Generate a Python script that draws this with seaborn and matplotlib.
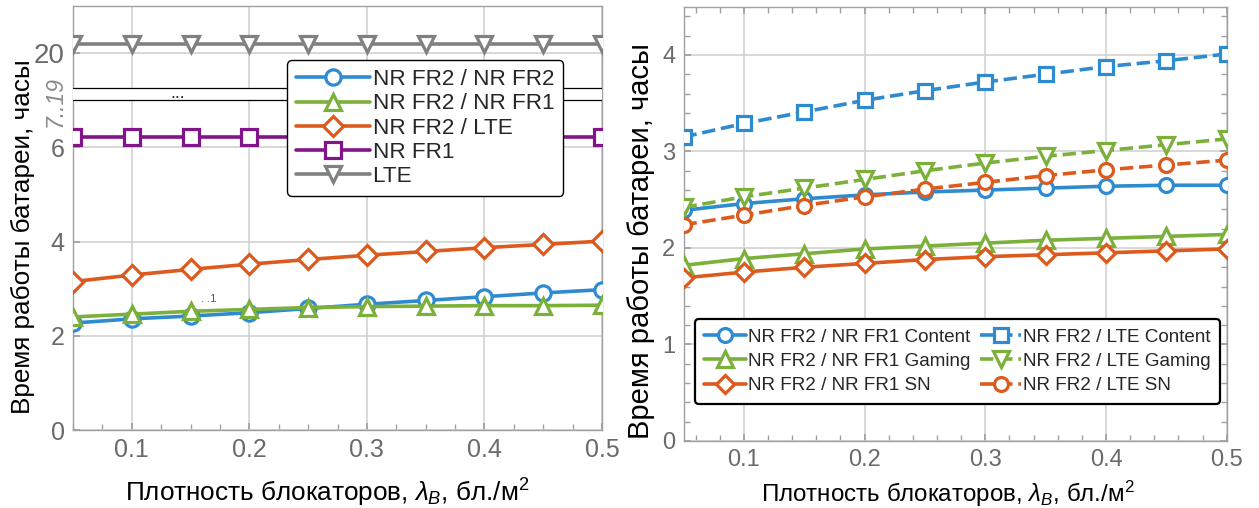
import matplotlib
matplotlib.use("Agg")
import matplotlib.pyplot as plt
import seaborn as sns
from matplotlib.ticker import FixedLocator, MultipleLocator

# blocker density, bl./m^2
density = [0.05, 0.10, 0.15, 0.20, 0.25, 0.30, 0.35, 0.40, 0.45, 0.50]

# left panel: battery life, hours
left_nr2_nr2 = [2.27, 2.36, 2.42, 2.49, 2.58, 2.67, 2.75, 2.83, 2.91, 2.98]
left_nr2_nr1 = [2.40, 2.46, 2.52, 2.56, 2.60, 2.62, 2.63, 2.64, 2.64, 2.65]
left_nr2_lte = [3.15, 3.29, 3.41, 3.52, 3.62, 3.71, 3.79, 3.87, 3.94, 4.01]
left_nr1 = [6.22, 6.22, 6.22, 6.22, 6.22, 6.22, 6.22, 6.22, 6.22, 6.22]
left_lte = [20.2, 20.2, 20.2, 20.2, 20.2, 20.2, 20.2, 20.2, 20.2, 20.2]
left_labels = ["NR FR2 / NR FR2", "NR FR2 / NR FR1", "NR FR2 / LTE", "NR FR1", "LTE"]
left_yticks = [0, 2, 4, 6, 20]

# right panel: per-application battery life, hours
content_nr1 = [2.39, 2.46, 2.51, 2.55, 2.58, 2.60, 2.62, 2.64, 2.65, 2.65]
gaming_nr1 = [1.82, 1.89, 1.94, 1.99, 2.02, 2.05, 2.08, 2.10, 2.12, 2.14]
sn_nr1 = [1.69, 1.75, 1.80, 1.84, 1.88, 1.91, 1.93, 1.95, 1.97, 1.99]
content_lte = [3.15, 3.29, 3.41, 3.53, 3.63, 3.72, 3.80, 3.88, 3.94, 4.01]
gaming_lte = [2.42, 2.53, 2.62, 2.71, 2.80, 2.88, 2.95, 3.01, 3.07, 3.13]
sn_lte = [2.24, 2.34, 2.44, 2.53, 2.61, 2.68, 2.75, 2.81, 2.86, 2.91]
right_labels = [
    "NR FR2 / NR FR1 Content", "NR FR2 / NR FR1 Gaming", "NR FR2 / NR FR1 SN",
    "NR FR2 / LTE Content", "NR FR2 / LTE Gaming", "NR FR2 / LTE SN",
]

# broken y axis on the left panel: 7..19 is cut out
BREAK_LO, BREAK_HI = 7, 19
SHIFT = BREAK_HI - BREAK_LO

BLUE, GREEN, ORANGE = "#2f8bd0", "#7bb03a", "#dd5a1e"
PURPLE, GRAY = "#82148a", "#808080"
TICK_GRAY, SPINE_GRAY, GRID_GRAY = "#6a6a6a", "#a0a0a0", "#d2d2d2"
XLABEL = r"Плотность блокаторов, $\lambda_B$, бл./м$^2$"
YLABEL = "Время работы батареи, часы"

sns.set_theme(style="whitegrid")
plt.rcParams["font.family"] = ["Liberation Sans", "DejaVu Sans"]
plt.rcParams["mathtext.fontset"] = "custom"
plt.rcParams["mathtext.rm"] = "Liberation Sans"
plt.rcParams["mathtext.it"] = "Liberation Sans:italic"

fig = plt.figure(figsize=(12.59, 5.08), dpi=100)
ax_l = fig.add_axes([0.0580, 0.1535, 0.4202, 0.8346])
ax_r = fig.add_axes([0.5429, 0.1319, 0.4315, 0.8549])


def draw(ax, y, color, marker, ls="-", ms=11, label=None, z=3):
    sns.lineplot(
        x=density, y=y, ax=ax, color=color, marker=marker, linestyle=ls,
        linewidth=2.6, markersize=ms, markerfacecolor="white",
        markeredgecolor=color, markeredgewidth=2.3, label=label, zorder=z,
    )


def style_axes(ax, label_size):
    ax.set_facecolor("white")
    for sp in ax.spines.values():
        sp.set_color(SPINE_GRAY)
        sp.set_linewidth(1.0)
        sp.set_visible(True)
    ax.grid(True, color=GRID_GRAY, linewidth=1.2)
    ax.set_xlim(0.05, 0.5)
    ax.set_xticks([0.1, 0.2, 0.3, 0.4, 0.5])
    ax.set_xticklabels(["0.1", "0.2", "0.3", "0.4", "0.5"])
    ax.tick_params(axis="both", which="both", direction="in", colors=SPINE_GRAY,
                   labelcolor=TICK_GRAY, labelsize=label_size, pad=6)
    ax.tick_params(axis="both", which="major", length=5)
    ax.tick_params(axis="both", which="minor", length=4)


# ---- left panel ----
draw(ax_l, left_nr2_nr2, BLUE, "o", label=left_labels[0], z=3)
draw(ax_l, left_nr2_nr1, GREEN, "^", ms=12, label=left_labels[1], z=4)
draw(ax_l, left_nr2_lte, ORANGE, "D", ms=10, label=left_labels[2], z=3)
draw(ax_l, left_nr1, PURPLE, "s", label=left_labels[3], z=3)
draw(ax_l, [v - SHIFT for v in left_lte], GRAY, "v", ms=12, label=left_labels[4], z=3)

style_axes(ax_l, 18)
ax_l.set_ylim(0, 9)
ax_l.yaxis.set_major_locator(FixedLocator([t if t < BREAK_LO else t - SHIFT for t in left_yticks]))
ax_l.set_yticklabels([str(t) for t in left_yticks])
ax_l.get_yticklabels()[-1].set_fontsize(20)
ax_l.xaxis.set_minor_locator(MultipleLocator(0.025))
ax_l.tick_params(axis="x", which="both", top=False, bottom=True)
ax_l.tick_params(axis="y", which="both", left=True, right=False)

# break band
ax_l.axhspan(BREAK_LO, BREAK_LO + 0.27, color="white", zorder=5)
ax_l.axhline(BREAK_LO, color="black", linewidth=0.9, zorder=6)
ax_l.axhline(BREAK_LO + 0.27, color="black", linewidth=0.9, zorder=6)
ax_l.text(0.139, BREAK_LO + 0.15, "...", ha="center", va="center", fontsize=13, zorder=7)
ax_l.text(-0.034, 0.775, f"{BREAK_LO}..{BREAK_HI}", transform=ax_l.transAxes, rotation=90,
          ha="center", va="center", fontsize=16.5, style="italic", color="#8a8a8a")
ax_l.text(0.165, 2.79, ". .1", fontsize=8, color="#555555", ha="center", va="center")

ax_l.set_xlabel(XLABEL, fontsize=18.8, color="black")
ax_l.xaxis.set_label_coords(0.48, -0.11)
ax_l.set_ylabel(YLABEL, fontsize=18.8, color="black")
ax_l.yaxis.set_label_coords(-0.072, 0.455)

leg_l = ax_l.legend(loc="upper left", bbox_to_anchor=(0.4045, 0.872), borderaxespad=0,
                    fontsize=16.2, handlelength=3.3, handletextpad=0.1, labelspacing=0.14,
                    borderpad=0.4, frameon=True, fancybox=True, framealpha=1)
leg_l.get_frame().set_edgecolor("black")
leg_l.get_frame().set_linewidth(1.0)
leg_l.set_zorder(10)

# ---- right panel ----
draw(ax_r, content_nr1, BLUE, "o", ms=10, label=right_labels[0])
draw(ax_r, gaming_nr1, GREEN, "^", ms=11, label=right_labels[1])
draw(ax_r, sn_nr1, ORANGE, "D", ms=9, label=right_labels[2])
draw(ax_r, content_lte, BLUE, "s", ls="--", ms=10, label=right_labels[3])
draw(ax_r, gaming_lte, GREEN, "v", ls="--", ms=11, label=right_labels[4])
draw(ax_r, sn_lte, ORANGE, "o", ls="--", ms=10, label=right_labels[5])

style_axes(ax_r, 17)
ax_r.set_ylim(0, 4.5)
ax_r.set_yticks([0, 1, 2, 3, 4])
ax_r.set_yticklabels(["0", "1", "2", "3", "4"])
ax_r.xaxis.set_minor_locator(MultipleLocator(0.02))
ax_r.yaxis.set_minor_locator(MultipleLocator(0.2))
ax_r.tick_params(axis="both", which="both", top=True, right=True, bottom=True, left=True,
                 labeltop=False, labelright=False)

ax_r.set_xlabel(XLABEL, fontsize=17.4, color="black")
ax_r.xaxis.set_label_coords(0.487, -0.088)
ax_r.set_ylabel(YLABEL, fontsize=21, color="black")
ax_r.yaxis.set_label_coords(-0.052, 0.46)

leg_r = ax_r.legend(loc="upper left", bbox_to_anchor=(0.0212, 0.281), borderaxespad=0, ncol=2,
                    fontsize=13.6, handlelength=2.2, handletextpad=0.1, labelspacing=0.38,
                    columnspacing=0.5, borderpad=0.5, frameon=True, fancybox=True, framealpha=1)
leg_r.get_frame().set_edgecolor("black")
leg_r.get_frame().set_linewidth(1.6)
leg_r.set_zorder(10)

fig.savefig("out.png", dpi=100)
plt.close(fig)
